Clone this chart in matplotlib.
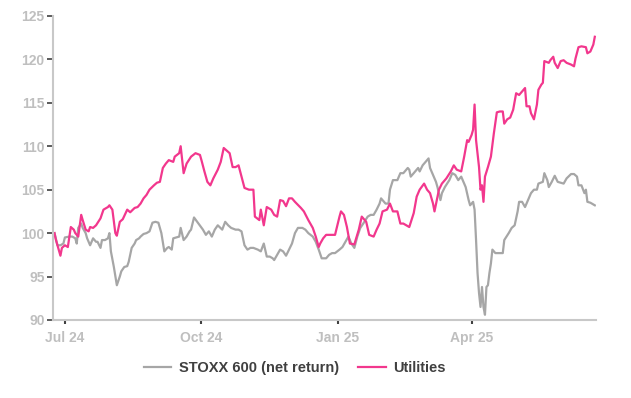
import pandas as pd
import matplotlib
matplotlib.use("Agg")
import matplotlib.pyplot as plt
import matplotlib.dates as mdates

plt.rcParams['font.family'] = ['Liberation Sans', 'DejaVu Sans']

# STOXX 600 (net return), rebased to 100
stoxx_dates = [
    "2024-06-24", "2024-06-26", "2024-06-28", "2024-06-30", "2024-07-01", "2024-07-04",
    "2024-07-06", "2024-07-08", "2024-07-09", "2024-07-10", "2024-07-12", "2024-07-13",
    "2024-07-15", "2024-07-16", "2024-07-18", "2024-07-20", "2024-07-22", "2024-07-23",
    "2024-07-25", "2024-07-26", "2024-07-28", "2024-07-30", "2024-07-31", "2024-08-01",
    "2024-08-03", "2024-08-05", "2024-08-07", "2024-08-08", "2024-08-10", "2024-08-12",
    "2024-08-13", "2024-08-15", "2024-08-17", "2024-08-18", "2024-08-20", "2024-08-21",
    "2024-08-23", "2024-08-25", "2024-08-27", "2024-08-29", "2024-08-31", "2024-09-02",
    "2024-09-04", "2024-09-06", "2024-09-08", "2024-09-09", "2024-09-11", "2024-09-12",
    "2024-09-14", "2024-09-16", "2024-09-17", "2024-09-19", "2024-09-21", "2024-09-23",
    "2024-09-24", "2024-09-26", "2024-09-29", "2024-10-02", "2024-10-04", "2024-10-06",
    "2024-10-08", "2024-10-10", "2024-10-12", "2024-10-15", "2024-10-17", "2024-10-19",
    "2024-10-21", "2024-10-24", "2024-10-26", "2024-10-28", "2024-10-30", "2024-11-01",
    "2024-11-03", "2024-11-05", "2024-11-08", "2024-11-10", "2024-11-12", "2024-11-14",
    "2024-11-16", "2024-11-18", "2024-11-19", "2024-11-21", "2024-11-23", "2024-11-25",
    "2024-11-27", "2024-11-29", "2024-12-01", "2024-12-03", "2024-12-05", "2024-12-08",
    "2024-12-10", "2024-12-12", "2024-12-15", "2024-12-17", "2024-12-19", "2024-12-21",
    "2024-12-24", "2024-12-26", "2024-12-28", "2024-12-30", "2025-01-02", "2025-01-04",
    "2025-01-06", "2025-01-08", "2025-01-10", "2025-01-12", "2025-01-14", "2025-01-16",
    "2025-01-18", "2025-01-21", "2025-01-23", "2025-01-25", "2025-01-27", "2025-01-29",
    "2025-01-30", "2025-02-02", "2025-02-04", "2025-02-05", "2025-02-07", "2025-02-10",
    "2025-02-12", "2025-02-14", "2025-02-17", "2025-02-18", "2025-02-19", "2025-02-22",
    "2025-02-24", "2025-02-25", "2025-02-27", "2025-03-01", "2025-03-03", "2025-03-04",
    "2025-03-06", "2025-03-08", "2025-03-09", "2025-03-11", "2025-03-12", "2025-03-14",
    "2025-03-17", "2025-03-19", "2025-03-21", "2025-03-23", "2025-03-25", "2025-03-28",
    "2025-03-30", "2025-03-31", "2025-04-02", "2025-04-03", "2025-04-04", "2025-04-05",
    "2025-04-06", "2025-04-07", "2025-04-08", "2025-04-09", "2025-04-10", "2025-04-11",
    "2025-04-12", "2025-04-13", "2025-04-14", "2025-04-15", "2025-04-17", "2025-04-19",
    "2025-04-22", "2025-04-23", "2025-04-26", "2025-04-28", "2025-04-30", "2025-05-02",
    "2025-05-03", "2025-05-05", "2025-05-07", "2025-05-09", "2025-05-11", "2025-05-13",
    "2025-05-15", "2025-05-16", "2025-05-19", "2025-05-20", "2025-05-22", "2025-05-23",
    "2025-05-25", "2025-05-27", "2025-05-29", "2025-05-31", "2025-06-02", "2025-06-04",
    "2025-06-07", "2025-06-09", "2025-06-11", "2025-06-12", "2025-06-14", "2025-06-16",
    "2025-06-17", "2025-06-18", "2025-06-20", "2025-06-23",
]
stoxx_vals = [
    100.0, 98.6, 98.6, 98.8, 99.5, 99.6,
    99.6, 99.4, 98.8, 100.6, 101.1, 100.6,
    100.0, 99.4, 98.6, 99.4, 99.0, 99.0,
    98.3, 99.2, 99.2, 99.4, 100.0, 97.9,
    96.1, 94.0, 95.0, 95.6, 96.1, 96.2,
    96.7, 98.3, 98.8, 99.2, 99.4, 99.6,
    99.9, 100.0, 100.2, 101.2, 101.3, 101.2,
    100.0, 97.9, 98.3, 98.4, 98.1, 99.4,
    99.5, 99.6, 100.6, 99.2, 99.6, 100.2,
    100.4, 101.8, 101.1, 100.4, 99.8, 100.2,
    99.6, 100.4, 100.9, 100.4, 101.3, 100.9,
    100.6, 100.4, 100.4, 100.2, 98.6, 98.1,
    98.3, 98.3, 98.1, 97.9, 98.8, 97.3,
    97.3, 97.1, 96.9, 97.5, 98.1, 97.9,
    97.4, 98.1, 98.8, 100.0, 100.6, 100.6,
    100.4, 100.0, 99.6, 99.0, 98.1, 97.1,
    97.1, 97.5, 97.7, 97.7, 98.1, 98.4,
    99.0, 99.6, 98.8, 98.3, 99.6, 100.6,
    101.1, 101.9, 102.1, 102.1, 102.7, 103.4,
    104.0, 103.4, 103.4, 105.0, 106.1, 106.1,
    106.9, 106.9, 107.5, 107.3, 106.5, 107.1,
    107.5, 107.1, 107.8, 108.2, 108.6, 107.5,
    106.7, 105.9, 105.3, 103.8, 104.6, 105.3,
    106.1, 106.9, 106.7, 106.1, 106.5, 105.3,
    103.8, 103.2, 103.6, 102.7, 99.2, 95.4,
    93.1, 91.5, 93.8, 91.5, 90.6, 93.8,
    94.0, 95.4, 96.5, 98.1, 97.7, 97.7,
    97.7, 99.2, 100.0, 100.6, 100.9, 102.5,
    103.6, 103.6, 103.0, 103.8, 104.6, 105.0,
    105.0, 105.7, 105.9, 106.9, 106.1, 105.3,
    105.9, 106.6, 105.9, 105.8, 105.7, 106.3,
    106.8, 106.8, 106.5, 105.5, 105.5, 104.6,
    105.0, 103.6, 103.5, 103.2,
]

# Utilities, rebased to 100
util_dates = [
    "2024-06-24", "2024-06-25", "2024-06-28", "2024-06-29", "2024-07-01", "2024-07-03",
    "2024-07-05", "2024-07-07", "2024-07-08", "2024-07-10", "2024-07-12", "2024-07-13",
    "2024-07-15", "2024-07-17", "2024-07-18", "2024-07-20", "2024-07-22", "2024-07-25",
    "2024-07-27", "2024-07-30", "2024-07-31", "2024-08-02", "2024-08-04", "2024-08-05",
    "2024-08-07", "2024-08-09", "2024-08-12", "2024-08-14", "2024-08-17", "2024-08-19",
    "2024-08-21", "2024-08-23", "2024-08-25", "2024-08-27", "2024-08-30", "2024-09-01",
    "2024-09-03", "2024-09-05", "2024-09-07", "2024-09-09", "2024-09-12", "2024-09-13",
    "2024-09-16", "2024-09-17", "2024-09-19", "2024-09-21", "2024-09-24", "2024-09-27",
    "2024-09-30", "2024-10-01", "2024-10-03", "2024-10-05", "2024-10-07", "2024-10-09",
    "2024-10-12", "2024-10-14", "2024-10-16", "2024-10-18", "2024-10-20", "2024-10-22",
    "2024-10-24", "2024-10-26", "2024-10-28", "2024-10-30", "2024-11-02", "2024-11-05",
    "2024-11-06", "2024-11-09", "2024-11-10", "2024-11-12", "2024-11-14", "2024-11-17",
    "2024-11-19", "2024-11-21", "2024-11-23", "2024-11-25", "2024-11-27", "2024-11-29",
    "2024-12-01", "2024-12-03", "2024-12-07", "2024-12-09", "2024-12-12", "2024-12-15",
    "2024-12-17", "2024-12-19", "2024-12-20", "2024-12-22", "2024-12-24", "2024-12-27",
    "2024-12-30", "2025-01-02", "2025-01-03", "2025-01-05", "2025-01-07", "2025-01-09",
    "2025-01-12", "2025-01-15", "2025-01-17", "2025-01-20", "2025-01-22", "2025-01-25",
    "2025-01-27", "2025-01-29", "2025-01-31", "2025-02-03", "2025-02-05", "2025-02-07",
    "2025-02-10", "2025-02-12", "2025-02-14", "2025-02-16", "2025-02-18", "2025-02-21",
    "2025-02-23", "2025-02-25", "2025-02-28", "2025-03-02", "2025-03-04", "2025-03-06",
    "2025-03-07", "2025-03-10", "2025-03-12", "2025-03-15", "2025-03-18", "2025-03-20",
    "2025-03-22", "2025-03-25", "2025-03-27", "2025-03-29", "2025-03-30", "2025-04-01",
    "2025-04-02", "2025-04-03", "2025-04-04", "2025-04-06", "2025-04-07", "2025-04-08",
    "2025-04-09", "2025-04-10", "2025-04-12", "2025-04-14", "2025-04-16", "2025-04-18",
    "2025-04-20", "2025-04-22", "2025-04-23", "2025-04-25", "2025-04-27", "2025-04-29",
    "2025-05-01", "2025-05-03", "2025-05-05", "2025-05-07", "2025-05-08", "2025-05-10",
    "2025-05-11", "2025-05-13", "2025-05-15", "2025-05-16", "2025-05-18", "2025-05-19",
    "2025-05-20", "2025-05-23", "2025-05-24", "2025-05-26", "2025-05-27", "2025-05-29",
    "2025-05-31", "2025-06-02", "2025-06-04", "2025-06-07", "2025-06-09", "2025-06-10",
    "2025-06-12", "2025-06-14", "2025-06-17", "2025-06-18", "2025-06-20", "2025-06-22",
    "2025-06-23",
]
util_vals = [
    100.0, 99.2, 97.4, 98.3, 98.6, 98.4,
    100.7, 100.4, 100.0, 99.6, 102.1, 101.5,
    100.4, 100.2, 100.7, 100.6, 100.9, 101.7,
    102.7, 103.0, 103.2, 102.7, 100.0, 99.7,
    101.3, 101.6, 102.7, 102.4, 102.9, 103.0,
    103.4, 104.0, 104.4, 105.0, 105.5, 105.8,
    105.9, 107.5, 108.0, 108.4, 108.2, 108.8,
    109.2, 110.0, 106.9, 108.0, 108.8, 109.2,
    109.0, 108.4, 107.1, 105.9, 105.5, 106.3,
    107.3, 108.2, 109.8, 109.5, 109.2, 107.6,
    107.6, 107.8, 106.5, 105.2, 105.0, 105.0,
    101.9, 101.5, 102.7, 100.9, 103.0, 102.7,
    102.1, 101.9, 103.8, 103.7, 103.1, 104.0,
    104.0, 103.6, 102.9, 102.5, 101.5, 100.6,
    99.6, 98.4, 98.8, 99.4, 99.8, 99.8,
    99.8, 101.9, 102.5, 102.1, 100.7, 98.8,
    98.7, 100.4, 101.9, 101.3, 99.8, 99.6,
    100.4, 101.1, 102.5, 102.7, 103.4, 102.5,
    102.5, 101.1, 101.1, 100.9, 100.7, 102.3,
    104.2, 105.0, 105.7, 105.0, 104.6, 103.4,
    102.5, 105.0, 105.7, 106.3, 107.1, 107.8,
    107.3, 107.1, 108.8, 110.7, 110.5, 111.3,
    111.9, 114.8, 110.7, 107.6, 105.0, 105.5,
    103.6, 106.5, 107.6, 108.8, 111.5, 113.9,
    114.0, 114.0, 112.6, 113.1, 113.3, 114.2,
    116.1, 115.9, 116.3, 116.7, 114.6, 114.6,
    113.8, 113.1, 114.8, 116.5, 117.1, 117.3,
    119.8, 119.6, 119.9, 120.3, 119.6, 119.0,
    119.8, 119.9, 119.6, 119.4, 119.2, 120.1,
    121.4, 121.5, 121.4, 120.7, 120.9, 121.7,
    122.6,
]

stoxx = pd.Series(stoxx_vals, index=pd.to_datetime(stoxx_dates))
util = pd.Series(util_vals, index=pd.to_datetime(util_dates))

fig = plt.figure(figsize=(6.31, 3.98), dpi=100)
ax = fig.add_axes([0.084, 0.196, 0.861, 0.764])

ax.plot(stoxx.index, stoxx.values, color="#A6A6A6", lw=1.6, label="STOXX 600 (net return)")
ax.plot(util.index, util.values, color="#F2378D", lw=1.6, label="Utilities")

ax.set_ylim(90, 125)
ax.set_yticks(range(90, 126, 5))
ax.set_xlim(pd.Timestamp("2024-06-23"), pd.Timestamp("2025-06-24"))
ax.xaxis.set_major_locator(mdates.MonthLocator(bymonth=[1, 4, 7, 10]))
ax.xaxis.set_major_formatter(mdates.DateFormatter("%b %y"))

for side in ["top", "right"]:
    ax.spines[side].set_visible(False)
for side in ["left", "bottom"]:
    ax.spines[side].set_color("#C8C8C8")
    ax.spines[side].set_linewidth(1.5)

ax.tick_params(axis="y", length=4, width=1.2, color="#404040", pad=2,
               labelsize=10, labelcolor="#BFBFBF")
ax.tick_params(axis="x", length=3, width=1.5, color="#404040", pad=5,
               labelsize=10, labelcolor="#BFBFBF")
for lbl in ax.get_xticklabels() + ax.get_yticklabels():
    lbl.set_fontweight("bold")

leg = fig.legend(loc="center", bbox_to_anchor=(0.467, 0.075), ncol=2, frameon=False,
                 handlelength=1.9, columnspacing=1.35, handletextpad=0.5,
                 prop={"size": 10.5, "weight": "bold"})
for t in leg.get_texts():
    t.set_color("#404040")

fig.savefig("out.png", dpi=100, facecolor="white")
